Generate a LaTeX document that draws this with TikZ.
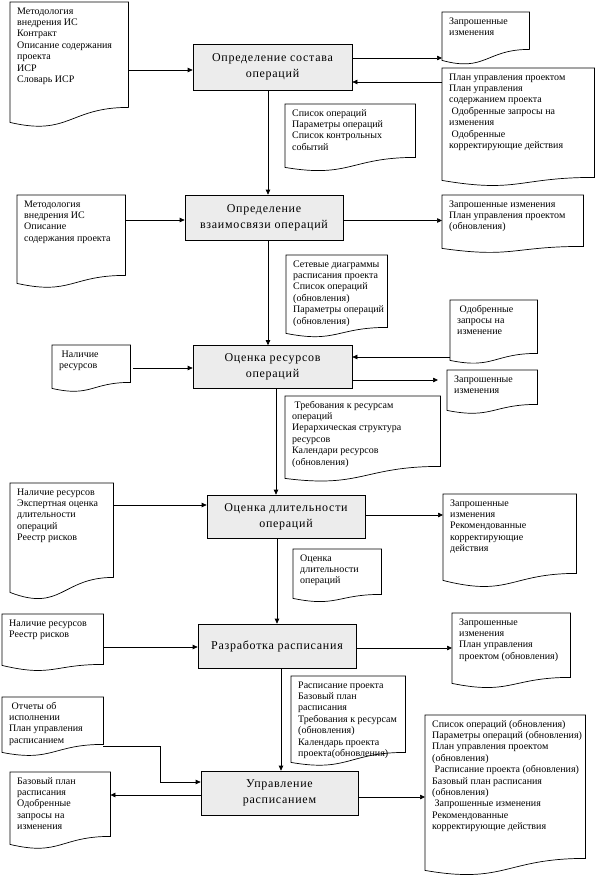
\documentclass[tikz,border=0pt]{standalone}
\usepackage{fontspec}
\setmainfont{Liberation Serif}
\newfontfamily\procfamily[LetterSpace=6]{Liberation Serif}
\usetikzlibrary{arrows.meta,calc}
\definecolor{boxgray}{RGB}{236,236,236}
\newcommand\boxfont{\procfamily\fontsize{12}{16}\selectfont}
\newcommand\docfont{\fontsize{10}{11.4}\selectfont}
\newcommand\dtext[3]{\parbox[c][#2pt][t]{#1pt}{\vspace*{4pt}\hspace*{7pt}\begin{tabular}[t]{@{}l@{}}#3\end{tabular}}}
\newcommand\docframe[3]{%
  \draw[docline] (#1.south west) .. controls ($(#1.south)+(0,-#3)$) and ($(#1.south)+(0,#2)$) .. ($(#1.south east)+(0,#2)$)
    -- (#1.north east) -- (#1.north west) -- cycle;}
\begin{document}
\begin{tikzpicture}[x=1pt,y=1pt,
  proc/.style={draw, line width=0.7pt, fill=boxgray, inner sep=0pt, align=center, font=\boxfont},
  doc/.style={anchor=north west, inner sep=0pt, font=\docfont},
  docline/.style={line width=0.7pt, line join=miter},
  arr/.style={line width=0.7pt, -{Triangle[length=5pt,width=4.5pt]}}]
\path[use as bounding box, fill=white] (0,0) rectangle (596,-878);

% process boxes
\node[proc, minimum width=159pt, minimum height=46pt] (b1) at (272.5,-67) {Определение состава\\операций};
\node[proc, minimum width=158pt, minimum height=45pt] (b2) at (264,-217.5) {Определение\\взаимосвязи операций};
\node[proc, minimum width=159pt, minimum height=43pt] (b3) at (272.5,-367) {Оценка ресурсов\\операций};
\node[proc, minimum width=158pt, minimum height=43pt] (b4) at (286,-516.5) {Оценка длительности\\операций};
\node[proc, minimum width=158pt, minimum height=44pt] (b5) at (277,-646) {Разработка расписания};
\node[proc, minimum width=157pt, minimum height=44pt] (b6) at (279.5,-793) {Управление\\расписанием};

% documents
\node[doc] (d1) at (10,-2) {\dtext{118}{120}{Методология\\внедрения ИС\\Контракт\\Описание содержания\\проекта\\ИСР\\Словарь ИСР}};
\docframe{d1}{15}{14}
\node[doc] (d2) at (442,-12) {\dtext{87}{48}{Запрошенные\\изменения}};
\docframe{d2}{11}{12}
\node[doc] (d3) at (442,-68) {\dtext{152}{112}{План управления проектом\\План управления\\содержанием проекта\\\hspace{2.5pt}Одобренные запросы на\\изменения\\\hspace{2.5pt}Одобренные\\корректирующие действия}};
\docframe{d3}{3}{13}
\node[doc] (d4) at (285,-104) {\dtext{130}{63}{Список операций\\Параметры операций\\Список контрольных\\событий}};
\docframe{d4}{10}{11}
\node[doc] (d5) at (17,-195) {\dtext{108}{88}{Методология\\внедрения ИС\\Описание\\содержания проекта}};
\docframe{d5}{8}{12}
\node[doc] (d6) at (442,-195) {\dtext{141}{53}{Запрошенные изменения\\План управления проектом\\(обновления)}};
\docframe{d6}{2}{10}
\node[doc] (d7) at (286,-255) {\dtext{101}{78}{Сетевые диаграммы\\расписания проекта\\Список операций\\(обновления)\\Параметры операций\\(обновления)}};
\docframe{d7}{6}{10}
\node[doc] (d8) at (52,-345) {\dtext{78}{43}{\hspace{2.5pt}Наличие\\ресурсов}};
\docframe{d8}{6}{9}
\node[doc] (d9) at (450,-300) {\dtext{87}{60}{\hspace{2.5pt}Одобренные\\запросы на\\изменение}};
\docframe{d9}{7}{9}
\node[doc] (d10) at (447,-370) {\dtext{90}{40}{Запрошенные\\изменения}};
\docframe{d10}{6}{9}
\node[doc] (d11) at (285,-396) {\dtext{155}{82}{\hspace{2.5pt}Требования к ресурсам\\операций\\Иерархическая структура\\ресурсов\\Календари ресурсов\\(обновления)}};
\docframe{d11}{12}{10}
\node[doc] (d12) at (10,-483) {\dtext{103}{109}{Наличие ресурсов\\Экспертная оценка\\длительности\\операций\\Реестр рисков}};
\docframe{d12}{15}{20}
\node[doc] (d13) at (443,-494) {\dtext{133}{86}{Запрошенные\\изменения\\Рекомендованные\\корректирующие\\действия}};
\docframe{d13}{7}{17}
\node[doc] (d14) at (293,-549) {\dtext{88}{49}{Оценка\\длительности\\операций}};
\docframe{d14}{4}{9}
\node[doc] (d15) at (2,-614) {\dtext{101}{51}{Наличие ресурсов\\Реестр рисков}};
\docframe{d15}{1}{12}
\node[doc] (d16) at (452,-613) {\dtext{118}{70}{Запрошенные\\изменения\\План управления\\проектом (обновления)}};
\docframe{d16}{6}{12}
\node[doc] (d17) at (291,-676) {\dtext{114}{86}{Расписание проекта\\Базовый план\\расписания\\Требования к ресурсам\\(обновления)\\Календарь проекта\\проекта(обновления)}};
\docframe{d17}{10}{10}
\node[doc] (d18) at (2,-697) {\dtext{101}{55}{\hspace{2.5pt}Отчеты об\\исполнении\\План управления\\расписанием}};
\docframe{d18}{8}{10}
\node[doc] (d19) at (10,-772) {\dtext{100}{72}{Базовый план\\расписания\\Одобренные\\запросы на\\изменения}};
\docframe{d19}{8}{12}
\node[doc] (d20) at (425,-715) {\dtext{160}{155}{Список операций (обновления)\\Параметры операций (обновления)\\План управления проектом\\(обновления)\\\hspace{2.5pt}Расписание проекта (обновления)\\Базовый план расписания\\(обновления)\\\hspace{2.5pt}Запрошенные изменения\\Рекомендованные\\корректирующие действия}};
\docframe{d20}{12}{14}

% connector end points
\coordinate (p1) at ([yshift=-3pt]b1.west);
\coordinate (p2) at ([yshift=9pt]b1.east);
\coordinate (p3) at ([yshift=-15pt]b1.east);
\coordinate (p4) at ([xshift=-4.5pt]b1.south);
\coordinate (p5) at ([yshift=-2.5pt]b2.west);
\coordinate (p6) at ([yshift=-3pt]b2.east);
\coordinate (p7) at ([xshift=4pt]b2.south);
\coordinate (p8) at ([yshift=-1pt]b3.west);
\coordinate (p8s) at ([xshift=3pt]d8.east);
\coordinate (p9) at ([yshift=10pt]b3.east);
\coordinate (p10) at ([yshift=-13pt]b3.east);
\coordinate (p10e) at ([xshift=-9pt]d10.west);
\coordinate (p11) at ([xshift=3.5pt]b3.south);
\coordinate (p12) at ([yshift=11.5pt]b4.west);
\coordinate (p13) at ([yshift=1.5pt]b4.east);
\coordinate (p14) at ([xshift=-9pt]b4.south);
\coordinate (p15) at ([yshift=-1pt]b5.west);
\coordinate (p16) at ([yshift=-2pt]b5.east);
\coordinate (p17) at ([xshift=4pt]b5.south);
\coordinate (p18) at ([yshift=11pt]b6.west);
\coordinate (q18) at ([yshift=6pt]d18.south east);
\coordinate (p19) at ([yshift=-2pt]b6.west);
\coordinate (p20) at ([yshift=-4pt]b6.east);

% connectors
\draw[arr] (d1.east |- p1) -- (p1);
\draw[arr] (p2) -- (p2 -| d2.west);
\draw[arr] (p3 -| d3.west) -- (p3);
\draw[arr] (p4) -- (p4 |- b2.north);
\draw[arr] (d5.east |- p5) -- (p5);
\draw[arr] (p6) -- (p6 -| d6.west);
\draw[arr] (p7) -- (p7 |- b3.north);
\draw[arr] (p8s |- p8) -- (p8);
\draw[arr] (p9 -| d9.west) -- (p9);
\draw[arr] (p10) -- (p10 -| p10e);
\draw[arr] (p11) -- (p11 |- b4.north);
\draw[arr] (d12.east |- p12) -- (p12);
\draw[arr] (p13) -- (p13 -| d13.west);
\draw[arr] (p14) -- (p14 |- b5.north);
\draw[arr] (d15.east |- p15) -- (p15);
\draw[arr] (p16) -- (p16 -| d16.west);
\draw[arr] (p17) -- (p17 |- b6.north);
\draw[arr] (q18) -- ++(57,0) |- (p18);
\draw[arr] (p19) -- (p19 -| d19.east);
\draw[arr] (p20) -- (p20 -| d20.west);
\end{tikzpicture}
\end{document}
